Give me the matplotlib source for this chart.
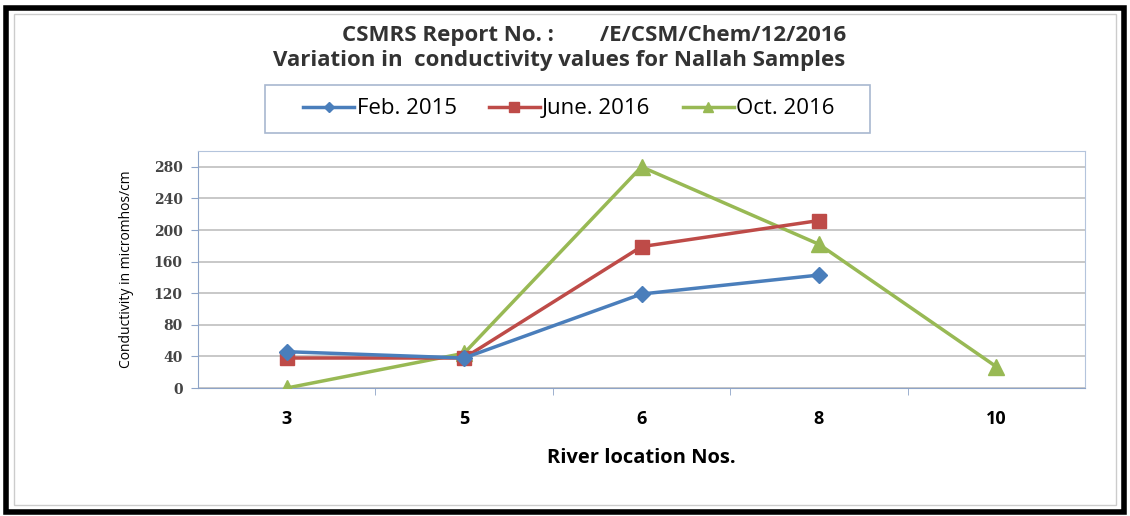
import matplotlib.pyplot as plt
from matplotlib.patches import Rectangle

# river locations and conductivity readings
locations = ["3", "5", "6", "8", "10"]
feb_2015 = [46, 38, 119, 143, None]
june_2016 = [38, 38, 179, 212, None]
oct_2016 = [0, 44, 280, 182, 27]

series_names = ["Feb. 2015", "June. 2016", "Oct. 2016"]
y_ticks = [0, 40, 80, 120, 160, 200, 240, 280]

fig = plt.figure(figsize=(11.3, 5.16), dpi=100)
ax = fig.add_axes([0.1752, 0.248, 0.785, 0.4593])

x = list(range(len(locations)))

def pts(vals):
    xs = [i for i, v in zip(x, vals) if v is not None]
    ys = [v for v in vals if v is not None]
    return xs, ys

xs, ys = pts(feb_2015)
ax.plot(xs, ys, color="#4A7EBB", lw=2.5, marker="D", ms=8, label=series_names[0], zorder=5)
xs, ys = pts(june_2016)
ax.plot(xs, ys, color="#BE4B48", lw=2.5, marker="s", ms=10, label=series_names[1], zorder=4)
xs, ys = pts(oct_2016)
ax.plot(xs, ys, color="#98B954", lw=2.5, marker="^", ms=11, label=series_names[2], zorder=3)

ax.set_xlim(-0.5, len(locations) - 0.5)
ax.set_ylim(0, 300)
ax.set_yticks(y_ticks)
ax.set_yticklabels([str(t) for t in y_ticks], family="DejaVu Serif", fontweight="bold",
                   fontsize=10, color="#444444")
ax.set_xticks(x)
ax.set_xticklabels(locations, family="Open Sans", fontweight="bold", fontsize=13)
ax.tick_params(axis="x", length=0, pad=16)
ax.set_xticks([i + 0.5 for i in x[:-1]], minor=True)
ax.tick_params(axis="x", which="minor", length=5, color="#8EA4C8")
ax.tick_params(axis="y", length=5, color="#8EA4C8", pad=6)
ax.grid(axis="y", color="#BFBFBF", lw=1.2)
ax.set_axisbelow(True)
for s in ax.spines.values():
    s.set_color("#B4C4DC")
ax.spines["bottom"].set_color("#8EA4C8")
ax.spines["left"].set_color("#8EA4C8")

ax.set_ylabel("Conductivity in micromhos/cm", family="Open Sans", fontsize=10, labelpad=14)
ax.set_xlabel("River location Nos.", family="Open Sans", fontweight="bold", fontsize=14.5, labelpad=14)

fig.text(0.526, 0.932, "CSMRS Report No. :        /E/CSM/Chem/12/2016", ha="center", va="center",
         family="Open Sans", fontweight="bold", fontsize=16, color="#333333")
fig.text(0.495, 0.882, "Variation in  conductivity values for Nallah Samples", ha="center", va="center",
         family="Open Sans", fontweight="bold", fontsize=16, color="#333333")

leg = fig.legend(loc="center", bbox_to_anchor=(0.5035, 0.789), ncol=3, frameon=False,
                 prop={"family": "Open Sans", "size": 16}, handlelength=2.3, columnspacing=1.45,
                 handletextpad=0.1, markerscale=0.7)

# legend box
fig.patches.append(Rectangle((0.2345, 0.7422), 0.5354, 0.093, transform=fig.transFigure,
                             fill=False, edgecolor="#A8B8D0", lw=1.2))

# outer frame
fig.patches.append(Rectangle((0.005, 0.008), 0.99, 0.976, transform=fig.transFigure,
                             fill=False, edgecolor="black", lw=4))
fig.patches.append(Rectangle((0.012, 0.022), 0.976, 0.95, transform=fig.transFigure,
                             fill=False, edgecolor="#CCCCCC", lw=1))

fig.savefig("out.png")
